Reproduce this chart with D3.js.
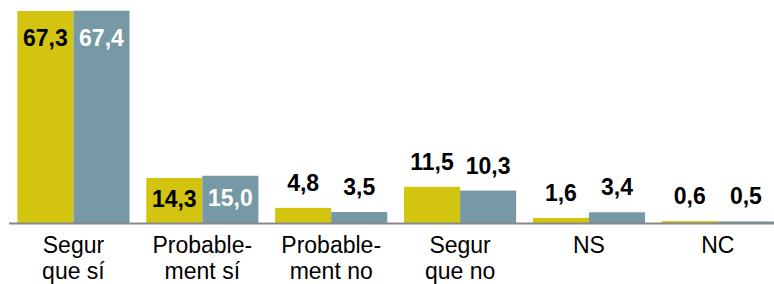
<!DOCTYPE html>
<html>
<head>
<meta charset="utf-8">
<script src="https://cdn.jsdelivr.net/npm/d3@7"></script>
<style>
  body { margin: 0; background: #fff; }
  text { font-family: Arial, "Liberation Sans", sans-serif; }
</style>
</head>
<body>
<div id="chart"></div>
<script>
// categories, each label split in lines
var categories = ["Segur que sí", "Probablement sí", "Probablement no", "Segur que no", "NS", "NC"];
var catLines = [["Segur", "que sí"], ["Probable-", "ment sí"], ["Probable-", "ment no"], ["Segur", "que no"], ["NS"], ["NC"]];
var seriesNames = ["s1", "s2"];
var serie1 = [67.3, 14.3, 4.8, 11.5, 1.6, 0.6];
var serie2 = [67.4, 15.0, 3.5, 10.3, 3.4, 0.5];
var colors = ["#d3c410", "#7699a5"];
var insideText = ["#000", "#fff"];

var width = 774, height = 284;
var baseY = 223;

var svg = d3.select("#chart").append("svg")
    .attr("width", width).attr("height", height);

var x0 = d3.scaleBand().domain(categories)
    .range([9, 782.3]).paddingInner(0.13).paddingOuter(0.065);
var x1 = d3.scaleBand().domain(seriesNames).range([0, x0.bandwidth()]);
var y = d3.scaleLinear().domain([0, 67.4]).range([baseY, 10.7]);

var rows = categories.map(function (c, i) {
  return { cat: c, vals: [serie1[i], serie2[i]] };
});

var groups = svg.selectAll(".grp").data(rows).enter().append("g")
    .attr("class", "grp")
    .attr("transform", function (d) { return "translate(" + x0(d.cat) + ",0)"; });

groups.selectAll("rect").data(function (d) { return d.vals; }).enter().append("rect")
    .attr("x", function (d, i) { return x1(seriesNames[i]); })
    .attr("y", function (d) { return y(d); })
    .attr("width", x1.bandwidth())
    .attr("height", function (d) { return baseY - y(d); })
    .attr("fill", function (d, i) { return colors[i]; });

groups.selectAll(".val").data(function (d) { return d.vals; }).enter().append("text")
    .attr("class", "val")
    .attr("x", function (d, i) { return x1(seriesNames[i]) + x1.bandwidth() / 2; })
    .attr("y", function (d) {
      var top = y(d);
      if (d >= 14) return top + Math.min(35, (baseY - top) / 2 + 7);
      return top - 17;
    })
    .attr("text-anchor", "middle")
    .attr("font-size", "23px")
    .attr("font-weight", "bold")
    .attr("fill", function (d, i) { return d >= 14 ? insideText[i] : "#000"; })
    .text(function (d) { return d.toFixed(1).replace(".", ","); });

// axis line
svg.append("line")
    .attr("x1", 9).attr("x2", width)
    .attr("y1", baseY + 0.5).attr("y2", baseY + 0.5)
    .attr("stroke", "#888").attr("stroke-width", 2);

// category labels
var labels = svg.selectAll(".cat").data(categories).enter().append("text")
    .attr("class", "cat")
    .attr("text-anchor", "middle")
    .attr("font-size", "23px")
    .attr("fill", "#000");

labels.selectAll("tspan").data(function (d, i) { return catLines[i].map(function (l) { return { l: l, c: d }; }); })
  .enter().append("tspan")
    .attr("x", function (d) { return x0(d.c) + x0.bandwidth() / 2; })
    .attr("y", function (d, j) { return 253 + j * 25.5; })
    .text(function (d) { return d.l; });
</script>
</body>
</html>
